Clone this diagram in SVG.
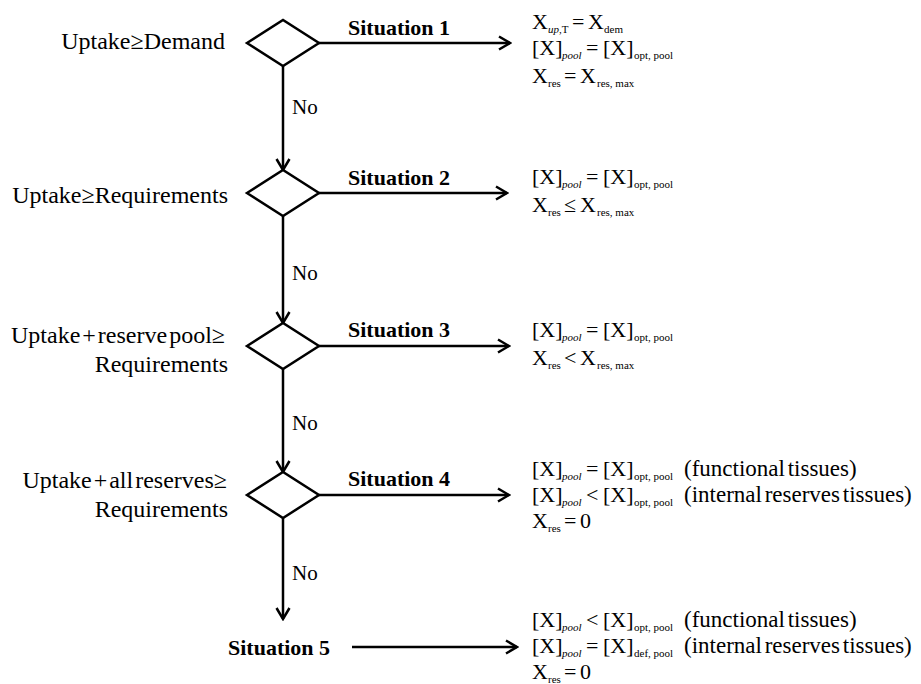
<svg xmlns="http://www.w3.org/2000/svg" width="921" height="684" viewBox="0 0 921 684">
<defs>
<style>
text{font-family:"Liberation Serif","Times New Roman",serif;fill:#000}
.lbl{font-size:24px;text-anchor:end;word-spacing:-4px}
.sit{font-size:22px;font-weight:bold}
.no{font-size:21px}
.eq{font-size:22px}
.par{font-size:23px;word-spacing:-3px}
.sub{font-size:11px}
.it{font-style:italic}
.shape{fill:#fff;stroke:#000;stroke-width:2.5;stroke-linejoin:miter}
.conn{fill:none;stroke:#000;stroke-width:2.5}
</style>
<marker id="ah" viewBox="0 0 14 16" refX="12.5" refY="8" markerWidth="14" markerHeight="16" orient="auto" markerUnits="userSpaceOnUse">
<path d="M1.5,1.5 L12.5,8 L1.5,14.5" fill="none" stroke="#000" stroke-width="2.5"/>
</marker>
</defs>
<rect width="921" height="684" fill="#fff"/>

<g id="connectors">
<line class="conn" x1="319" y1="43" x2="510" y2="43" marker-end="url(#ah)"/>
<line class="conn" x1="319" y1="193" x2="507" y2="193" marker-end="url(#ah)"/>
<line class="conn" x1="319" y1="346" x2="509" y2="346" marker-end="url(#ah)"/>
<line class="conn" x1="319" y1="495" x2="509" y2="495" marker-end="url(#ah)"/>
<line class="conn" x1="352" y1="647" x2="517" y2="647" marker-end="url(#ah)"/>
<line class="conn" x1="283" y1="66" x2="283" y2="170" marker-end="url(#ah)"/>
<line class="conn" x1="283" y1="216" x2="283" y2="323" marker-end="url(#ah)"/>
<line class="conn" x1="283" y1="369" x2="283" y2="472" marker-end="url(#ah)"/>
<line class="conn" x1="283" y1="518" x2="283" y2="619" marker-end="url(#ah)"/>
<text class="no" x="292" y="114">No</text>
<text class="no" x="292" y="280">No</text>
<text class="no" x="292" y="430">No</text>
<text class="no" x="292" y="580">No</text>
<text class="sit" x="348" y="35">Situation 1</text>
<text class="sit" x="348" y="185">Situation 2</text>
<text class="sit" x="348" y="337">Situation 3</text>
<text class="sit" x="348" y="486">Situation 4</text>
</g>

<g id="decision1">
<polygon class="shape" points="247,43 283,20 319,43 283,66"/>
<text class="lbl" x="225" y="49">Uptake≥Demand</text>
</g>
<g id="decision2">
<polygon class="shape" points="247,193 283,170 319,193 283,216"/>
<text class="lbl" x="228" y="203">Uptake≥Requirements</text>
</g>
<g id="decision3">
<polygon class="shape" points="247,346 283,323 319,346 283,369"/>
<text class="lbl" x="225" y="343">Uptake + reserve pool≥</text>
<text class="lbl" x="228" y="372">Requirements</text>
</g>
<g id="decision4">
<polygon class="shape" points="247,495 283,472 319,495 283,518"/>
<text class="lbl" x="227" y="488">Uptake + all reserves≥</text>
<text class="lbl" x="228" y="517">Requirements</text>
</g>
<g id="situation5">
<text class="sit" x="228" y="655">Situation 5</text>
</g>

<g id="result1">
<text class="eq" y="29"><tspan x="532">X</tspan><tspan class="sub" x="548" y="33"><tspan class="it">up</tspan>,T</tspan><tspan x="572" y="29">=</tspan><tspan x="588">X</tspan><tspan class="sub" x="604" y="33">dem</tspan></text>
<text class="eq" y="55"><tspan x="532">[X]</tspan><tspan class="sub it" x="562" y="59">pool</tspan><tspan x="586" y="55">=</tspan><tspan x="603">[X]</tspan><tspan class="sub" x="634" y="59">opt, pool</tspan></text>
<text class="eq" y="83"><tspan x="532">X</tspan><tspan class="sub" x="548" y="87">res</tspan><tspan x="564" y="83">=</tspan><tspan x="580">X</tspan><tspan class="sub" x="597" y="87">res, max</tspan></text>
</g>

<g id="result2">
<text class="eq" y="184"><tspan x="532">[X]</tspan><tspan class="sub it" x="562" y="188">pool</tspan><tspan x="586" y="184">=</tspan><tspan x="603">[X]</tspan><tspan class="sub" x="634" y="188">opt, pool</tspan></text>
<text class="eq" y="212"><tspan x="532">X</tspan><tspan class="sub" x="548" y="216">res</tspan><tspan x="564" y="212">≤</tspan><tspan x="580">X</tspan><tspan class="sub" x="597" y="216">res, max</tspan></text>
</g>

<g id="result3">
<text class="eq" y="337"><tspan x="532">[X]</tspan><tspan class="sub it" x="562" y="341">pool</tspan><tspan x="586" y="337">=</tspan><tspan x="603">[X]</tspan><tspan class="sub" x="634" y="341">opt, pool</tspan></text>
<text class="eq" y="365"><tspan x="532">X</tspan><tspan class="sub" x="548" y="369">res</tspan><tspan x="564" y="365">&lt;</tspan><tspan x="580">X</tspan><tspan class="sub" x="597" y="369">res, max</tspan></text>
</g>

<g id="result4">
<text class="eq" y="476"><tspan x="532">[X]</tspan><tspan class="sub it" x="562" y="480">pool</tspan><tspan x="586" y="476">=</tspan><tspan x="603">[X]</tspan><tspan class="sub" x="634" y="480">opt, pool</tspan></text>
<text class="par" x="684" y="476">(functional tissues)</text>
<text class="eq" y="502"><tspan x="532">[X]</tspan><tspan class="sub it" x="562" y="506">pool</tspan><tspan x="586" y="502">&lt;</tspan><tspan x="603">[X]</tspan><tspan class="sub" x="634" y="506">opt, pool</tspan></text>
<text class="par" x="684" y="502">(internal reserves tissues)</text>
<text class="eq" y="528"><tspan x="532">X</tspan><tspan class="sub" x="548" y="532">res</tspan><tspan x="564" y="528">=</tspan><tspan x="580">0</tspan></text>
</g>

<g id="result5">
<text class="eq" y="627"><tspan x="532">[X]</tspan><tspan class="sub it" x="562" y="631">pool</tspan><tspan x="586" y="627">&lt;</tspan><tspan x="603">[X]</tspan><tspan class="sub" x="634" y="631">opt, pool</tspan></text>
<text class="par" x="684" y="627">(functional tissues)</text>
<text class="eq" y="653"><tspan x="532">[X]</tspan><tspan class="sub it" x="562" y="657">pool</tspan><tspan x="586" y="653">=</tspan><tspan x="603">[X]</tspan><tspan class="sub" x="634" y="657">def, pool</tspan></text>
<text class="par" x="684" y="653">(internal reserves tissues)</text>
<text class="eq" y="679"><tspan x="532">X</tspan><tspan class="sub" x="548" y="683">res</tspan><tspan x="564" y="679">=</tspan><tspan x="580">0</tspan></text>
</g>
</svg>
